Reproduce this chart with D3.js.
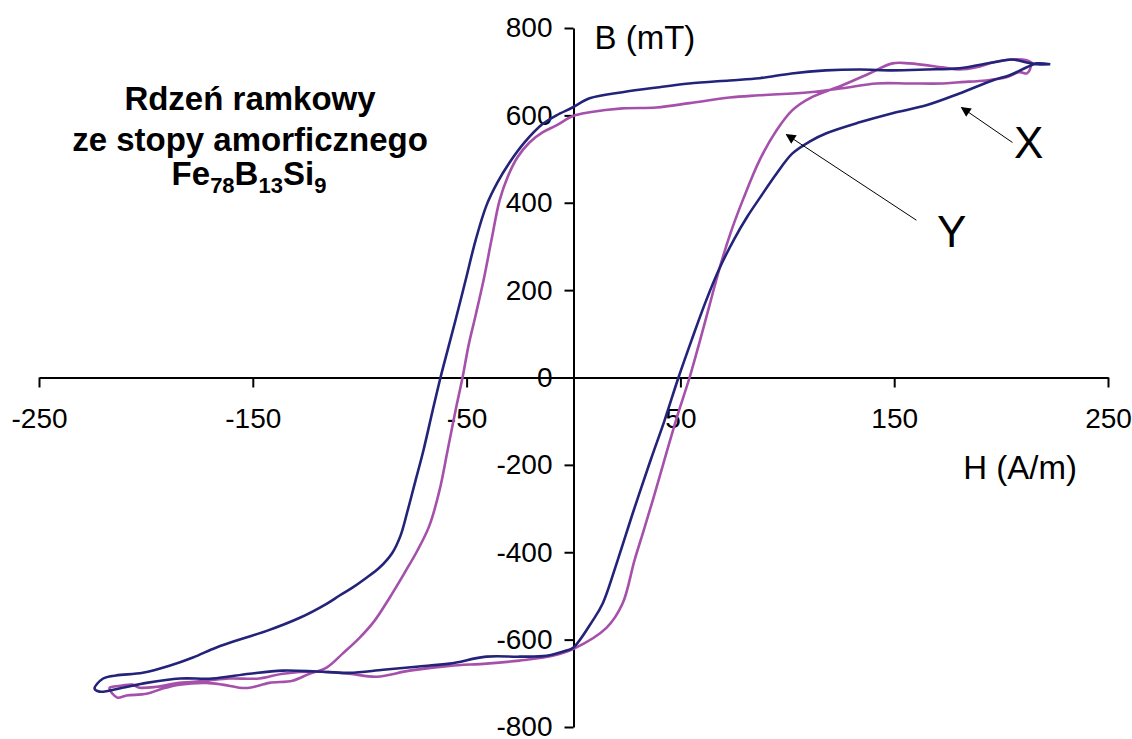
<!DOCTYPE html>
<html>

<head>
    <meta charset="utf-8">
    <title>Petla histerezy</title>
    <script src="https://d3js.org/d3.v7.min.js"></script>
    <style>
        body { margin: 0; background: #fff; }
        text { font-family: Arial, "Liberation Sans", sans-serif; }
    </style>
</head>

<body>
    <script>
        // pętla X (granatowa) - H w A/m, B w mT
        var loopXH = [223, 217, 212, 205, 196, 180.5, 165, 149, 134, 118, 102, 87, 73, 54, 39, 22.9, 7.5, -0.5, -8, -14.5,
            -22.9, -29.9, -35.5, -40.7, -45.8, -50.5, -55.2, -58.9, -62.2, -65.9, -70.2, -73.9, -77.6, -80.9, -84.7, -90.7,
            -97.3, -103.4, -109.4, -115.5, -128, -143.5, -155, -167, -178, -189, -201.5, -214, -220, -224,
            -221.7, -211, -199.7, -184, -169, -151.5, -136, -120, -105, -89, -73.5, -58, -40.7, -25.3, -12.6, -3.3, 0,
            8.9, 13.6, 20.6, 28.1, 36, 42.6, 49.1, 55.2, 61.7, 68.3, 75.3, 81.4, 87, 95, 102.4, 110.4, 118.3, 133.8,
            149.2, 165, 180.5, 196, 204, 212, 216.6, 223];
        var loopXB = [717, 717, 721, 728, 721, 708, 705, 703, 705, 703, 696, 685, 680, 673, 664, 653, 639, 618, 600, 580,
            538, 492, 447, 394, 314, 222, 131, 62, 0, -76, -167, -236, -305, -362, -401, -435,
            -460, -481, -499, -518, -550, -580, -598, -618, -641, -660, -676, -682, -689, -712,
            -719, -710, -699, -689, -689, -678, -671, -673, -676, -669, -662, -655, -639, -639, -637, -625, -618,
            -557, -518, -419, -305, -190, -98, 0, 85, 172, 250, 318, 369, 410, 467, 513, 540, 559, 584,
            605, 623, 650, 680, 692, 710, 719, 717];

        // pętla Y (fioletowa)
        var loopYH = [214, 213.3, 212, 208.6, 202.5, 193, 180.5, 172.6, 157, 141.7, 125.8, 110.4, 87, 73, 54.3, 38.8, 22.9, 7.5,
            -0.5, -8, -14.5, -20.6, -26.2, -30.9, -34.6, -38.4, -42.1, -45.8, -49.1, -51.9, -55.2, -58.9, -62.7, -67.4, -73,
            -79, -86, -93.1, -100.1, -108, -115.5, -123.5, -131.4, -142.2, -151.5, -156.2, -164.2, -171.7, -184.3, -192.2,
            -199.7, -209, -213.3, -215.6, -217,
            -215.6, -211, -206.3, -203, -195, -184.3, -171.7, -161, -147, -136, -120, -105, -92, -76.7, -58, -40.7, -25.3,
            -9.8, 0, 15.4, 22.9, 28.5, 33.2, 38.4, 43.5, 48.6, 54.3, 58.9, 63.6, 68.3, 73.4, 79.5, 87, 95, 102.4, 110.4,
            125.8, 138.4, 149.2, 157.2, 172.6, 180.5, 188.5, 196, 205.3, 212, 214.7];
        var loopYB = [715, 703, 696, 699, 687, 680, 676, 673, 673, 673, 662, 653, 646, 641, 628, 618, 616, 607,
            598, 577, 561, 538, 504, 458, 405, 314, 222, 142, 73, 0, -76, -167, -259, -339, -396,
            -447, -504, -557, -596, -632, -664, -678, -694, -699, -710, -710, -703, -699, -703, -712,
            -724, -728, -733, -724, -710,
            -708, -705, -703, -710, -708, -699, -694, -689, -689, -678, -673, -678, -685, -671, -660, -655, -648,
            -637, -621, -573, -518, -419, -344, -259, -172, -87, 0, 80, 165, 250, 330, 410, 497, 566, 612, 639,
            669, 696, 719, 719, 710, 705, 710, 721, 728, 726, 719];

        var xTicks = [-250, -150, -50, 50, 150, 250];
        var yTicks = [-800, -600, -400, -200, 0, 200, 400, 600, 800];

        var width = 1132;
        var height = 739;

        var svg = d3.select("body").append("svg")
            .attr("width", width)
            .attr("height", height)
            .style("background-color", "#fff");

        var x = d3.scaleLinear().domain([-250, 250]).range([39, 1108]);
        var y = d3.scaleLinear().domain([-800, 800]).range([727, 28]);

        // osie przecinają się w (0,0)
        var xAxis = d3.axisBottom(x)
            .tickValues(xTicks)
            .tickSize(10)
            .tickSizeOuter(0)
            .tickPadding(21)
            .tickFormat(function (d) { return String(d); });
        var yAxis = d3.axisLeft(y)
            .tickValues(yTicks)
            .tickSize(9)
            .tickSizeOuter(0)
            .tickPadding(12)
            .tickFormat(function (d) { return String(d); });

        var gx = svg.append("g")
            .attr("transform", "translate(0," + y(0) + ")")
            .call(xAxis);
        var gy = svg.append("g")
            .attr("transform", "translate(" + x(0) + ",0)")
            .call(yAxis);

        [gx, gy].forEach(function (g) {
            g.selectAll("path, line").attr("stroke", "#000").attr("stroke-width", 2);
            g.selectAll("text")
                .attr("fill", "#000")
                .style("font-size", "28px")
                .style("font-family", "Arial, 'Liberation Sans', sans-serif");
        });

        // tytuły osi
        svg.append("text")
            .attr("x", x(0) + 21)
            .attr("y", y(800) + 21)
            .style("font-size", "33px")
            .text("B (mT)");
        svg.append("text")
            .attr("x", x(250) - 31)
            .attr("y", y(-200) + 14)
            .attr("text-anchor", "end")
            .style("font-size", "33px")
            .text("H (A/m)");

        // pętle
        var line = d3.line()
            .x(function (d) { return x(d[0]); })
            .y(function (d) { return y(d[1]); })
            .curve(d3.curveCatmullRom.alpha(0.5));

        var series = [
            { h: loopYH, b: loopYB, color: "#a550aa" },
            { h: loopXH, b: loopXB, color: "#24237a" }
        ];
        series.forEach(function (s) {
            svg.append("path")
                .datum(d3.zip(s.h, s.b))
                .attr("d", line)
                .attr("fill", "none")
                .attr("stroke", s.color)
                .attr("stroke-width", 2.6)
                .attr("stroke-linejoin", "round");
        });

        // opis rdzenia
        var title = svg.append("text")
            .attr("text-anchor", "middle")
            .style("font-size", "33px")
            .style("font-weight", "bold");
        title.append("tspan").attr("x", 250).attr("y", 110).text("Rdzeń ramkowy");
        title.append("tspan").attr("x", 250).attr("y", 151).text("ze stopy amorficznego");

        var formula = svg.append("text")
            .attr("x", 249)
            .attr("y", 185)
            .attr("text-anchor", "middle")
            .style("font-size", "33px")
            .style("font-weight", "bold");
        [["Fe", false], ["78", true], ["B", false], ["13", true], ["Si", false], ["9", true]].forEach(function (p, i, arr) {
            var prevSub = i > 0 && arr[i - 1][1];
            var t = formula.append("tspan").text(p[0]);
            if (p[1]) t.attr("dy", 8).style("font-size", "22px");
            else if (prevSub) t.attr("dy", -8);
        });

        // strzałki X i Y
        svg.append("defs").append("marker")
            .attr("id", "arrow")
            .attr("viewBox", "0 0 10 10")
            .attr("refX", 9)
            .attr("refY", 5)
            .attr("markerWidth", 12)
            .attr("markerHeight", 10)
            .attr("markerUnits", "userSpaceOnUse")
            .attr("orient", "auto")
            .append("path")
            .attr("d", "M0,0 L10,5 L0,10 Z")
            .attr("fill", "#000");

        var arrows = [
            { label: "X", from: [205.3, 538], to: [181.5, 618], text: [206, 502] },
            { label: "Y", from: [160.4, 360], to: [99.6, 556], text: [170, 298] }
        ];
        arrows.forEach(function (a) {
            svg.append("line")
                .attr("x1", x(a.from[0]))
                .attr("y1", y(a.from[1]))
                .attr("x2", x(a.to[0]))
                .attr("y2", y(a.to[1]))
                .attr("stroke", "#000")
                .attr("stroke-width", 1)
                .attr("marker-end", "url(#arrow)");
            svg.append("text")
                .attr("x", x(a.text[0]))
                .attr("y", y(a.text[1]))
                .style("font-size", "44px")
                .text(a.label);
        });
    </script>
</body>

</html>
